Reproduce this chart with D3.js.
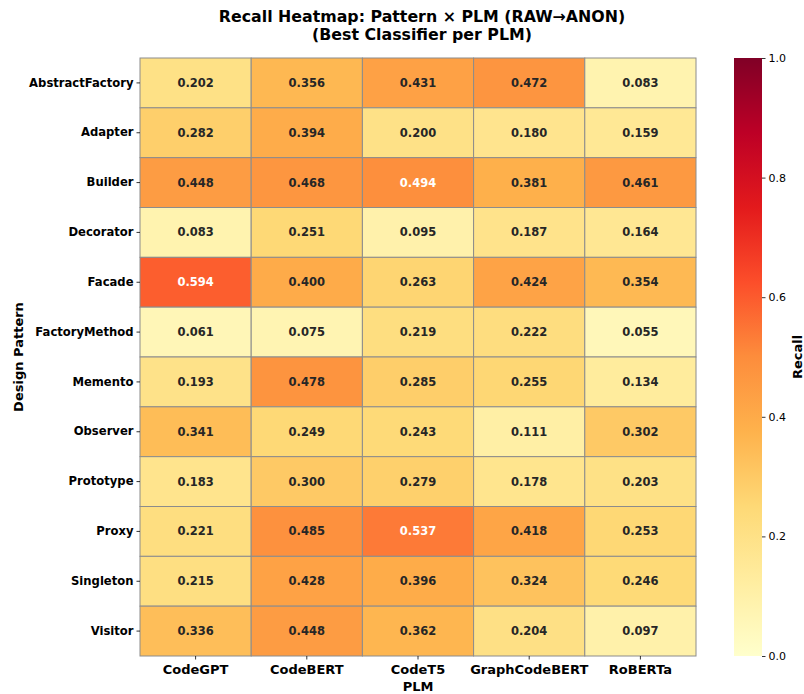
<!DOCTYPE html>
<html>
<head>
<meta charset="utf-8">
<script src="https://cdn.jsdelivr.net/npm/d3@7"></script>
<style>
  html, body { margin: 0; padding: 0; background: #fff; }
  svg { font-family: "DejaVu Sans", sans-serif; display: block; }
</style>
</head>
<body>
<svg id="chart" width="804" height="694"></svg>
<script>
// Design patterns (rows) and PLMs (columns)
const patterns = ["AbstractFactory", "Adapter", "Builder", "Decorator", "Facade", "FactoryMethod",
                  "Memento", "Observer", "Prototype", "Proxy", "Singleton", "Visitor"];
const plms = ["CodeGPT", "CodeBERT", "CodeT5", "GraphCodeBERT", "RoBERTa"];

// Recall per PLM, one value per pattern (in pattern order)
const codeGPT       = [0.202, 0.282, 0.448, 0.083, 0.594, 0.061, 0.193, 0.341, 0.183, 0.221, 0.215, 0.336];
const codeBERT      = [0.356, 0.394, 0.468, 0.251, 0.400, 0.075, 0.478, 0.249, 0.300, 0.485, 0.428, 0.448];
const codeT5        = [0.431, 0.200, 0.494, 0.095, 0.263, 0.219, 0.285, 0.243, 0.279, 0.537, 0.396, 0.362];
const graphCodeBERT = [0.472, 0.180, 0.381, 0.187, 0.424, 0.222, 0.255, 0.111, 0.178, 0.418, 0.324, 0.204];
const roberta       = [0.083, 0.159, 0.461, 0.164, 0.354, 0.055, 0.134, 0.302, 0.203, 0.253, 0.246, 0.097];
const seriesByPlm = [codeGPT, codeBERT, codeT5, graphCodeBERT, roberta];

const colorbarTicks = [0.0, 0.2, 0.4, 0.6, 0.8, 1.0];

// Flatten into cells
const cells = [];
plms.forEach((plm, j) => {
  patterns.forEach((pat, i) => {
    cells.push({ plm, pattern: pat, value: seriesByPlm[j][i] });
  });
});

const svg = d3.select("#chart");
const margin = { left: 140, top: 58, right: 108, bottom: 38 };
const plotW = 696 - margin.left;
const plotH = 656 - margin.top;

// YlOrRd (ColorBrewer 9-class, linear segments)
const ylorrd = ["#ffffcc", "#ffeda0", "#fed976", "#feb24c", "#fd8d3c", "#fc4e2a", "#e31a1c", "#bd0026", "#800026"];
const color = d3.scaleLinear()
  .domain(d3.range(9).map(k => k / 8))
  .range(ylorrd)
  .interpolate(d3.interpolateRgb)
  .clamp(true);

const x = d3.scaleBand().domain(plms).range([margin.left, margin.left + plotW]);
const y = d3.scaleBand().domain(patterns).range([margin.top, margin.top + plotH]);

// Text colour picked from the cell's relative luminance
function luminance(c) {
  const rgb = d3.rgb(c);
  const lin = v => { v /= 255; return v <= 0.03928 ? v / 12.92 : Math.pow((v + 0.055) / 1.055, 2.4); };
  return 0.2126 * lin(rgb.r) + 0.7152 * lin(rgb.g) + 0.0722 * lin(rgb.b);
}

const g = svg.append("g");
g.selectAll("rect.cell")
  .data(cells)
  .join("rect")
  .attr("class", "cell")
  .attr("x", d => x(d.plm))
  .attr("y", d => y(d.pattern))
  .attr("width", x.bandwidth())
  .attr("height", y.bandwidth())
  .attr("fill", d => color(d.value))
  .attr("stroke", "#8c8c8c")
  .attr("stroke-width", 1);

g.selectAll("text.val")
  .data(cells)
  .join("text")
  .attr("class", "val")
  .attr("x", d => x(d.plm) + x.bandwidth() / 2)
  .attr("y", d => y(d.pattern) + y.bandwidth() / 2)
  .attr("text-anchor", "middle")
  .attr("dominant-baseline", "central")
  .attr("font-size", 11.5)
  .attr("font-weight", "bold")
  .attr("fill", d => luminance(color(d.value)) > 0.412 ? "#262626" : "#ffffff")
  .text(d => d3.format(".3f")(d.value));

// Axes
const yAxis = svg.append("g")
  .attr("transform", `translate(${margin.left},0)`)
  .call(d3.axisLeft(y).tickSize(3.5).tickPadding(3));
yAxis.select(".domain").remove();
yAxis.selectAll("text").attr("font-size", 11.6).attr("font-weight", "bold").attr("fill", "#000")
  .attr("font-family", "DejaVu Sans");
yAxis.selectAll("line").attr("stroke", "#000").attr("stroke-width", 0.8);

const xAxis = svg.append("g")
  .attr("transform", `translate(0,${margin.top + plotH})`)
  .call(d3.axisBottom(x).tickSize(3.5).tickPadding(5));
xAxis.select(".domain").remove();
xAxis.selectAll("text").attr("font-size", 13).attr("font-weight", "bold").attr("fill", "#000")
  .attr("font-family", "DejaVu Sans");
xAxis.selectAll("line").attr("stroke", "#000").attr("stroke-width", 0.8);

// Axis titles
svg.append("text")
  .attr("x", margin.left + plotW / 2)
  .attr("y", 691)
  .attr("text-anchor", "middle")
  .attr("font-size", 13).attr("font-weight", "bold")
  .text("PLM");

svg.append("text")
  .attr("transform", `translate(23,${margin.top + plotH / 2}) rotate(-90)`)
  .attr("text-anchor", "middle")
  .attr("font-size", 13).attr("font-weight", "bold")
  .text("Design Pattern");

// Title
const title = svg.append("text")
  .attr("text-anchor", "middle")
  .attr("font-size", 15.8).attr("font-weight", "bold");
title.append("tspan").attr("x", margin.left + plotW / 2 + 4).attr("y", 22)
  .text("Recall Heatmap: Pattern × PLM (RAW→ANON)");
title.append("tspan").attr("x", margin.left + plotW / 2 + 4).attr("y", 40)
  .text("(Best Classifier per PLM)");

// Colour bar
const cbX = 734, cbW = 28;
const cbScale = d3.scaleLinear().domain([0, 1]).range([margin.top + plotH, margin.top]);
const defs = svg.append("defs");
const grad = defs.append("linearGradient")
  .attr("id", "cbgrad").attr("x1", "0").attr("y1", "1").attr("x2", "0").attr("y2", "0");
d3.range(0, 1.0001, 0.125).forEach(t => {
  grad.append("stop").attr("offset", t).attr("stop-color", color(t));
});
svg.append("rect")
  .attr("x", cbX).attr("y", margin.top)
  .attr("width", cbW).attr("height", plotH)
  .attr("fill", "url(#cbgrad)");

const cbAxis = svg.append("g")
  .attr("transform", `translate(${cbX + cbW},0)`)
  .call(d3.axisRight(cbScale).tickValues(colorbarTicks).tickFormat(d3.format(".1f")).tickSize(3.5).tickPadding(3));
cbAxis.select(".domain").remove();
cbAxis.selectAll("text").attr("font-size", 11).attr("fill", "#000").attr("font-family", "DejaVu Sans");
cbAxis.selectAll("line").attr("stroke", "#000").attr("stroke-width", 0.8);

svg.append("text")
  .attr("transform", `translate(802,${margin.top + plotH / 2}) rotate(-90)`)
  .attr("text-anchor", "middle")
  .attr("font-size", 13).attr("font-weight", "bold")
  .text("Recall");
</script>
</body>
</html>
